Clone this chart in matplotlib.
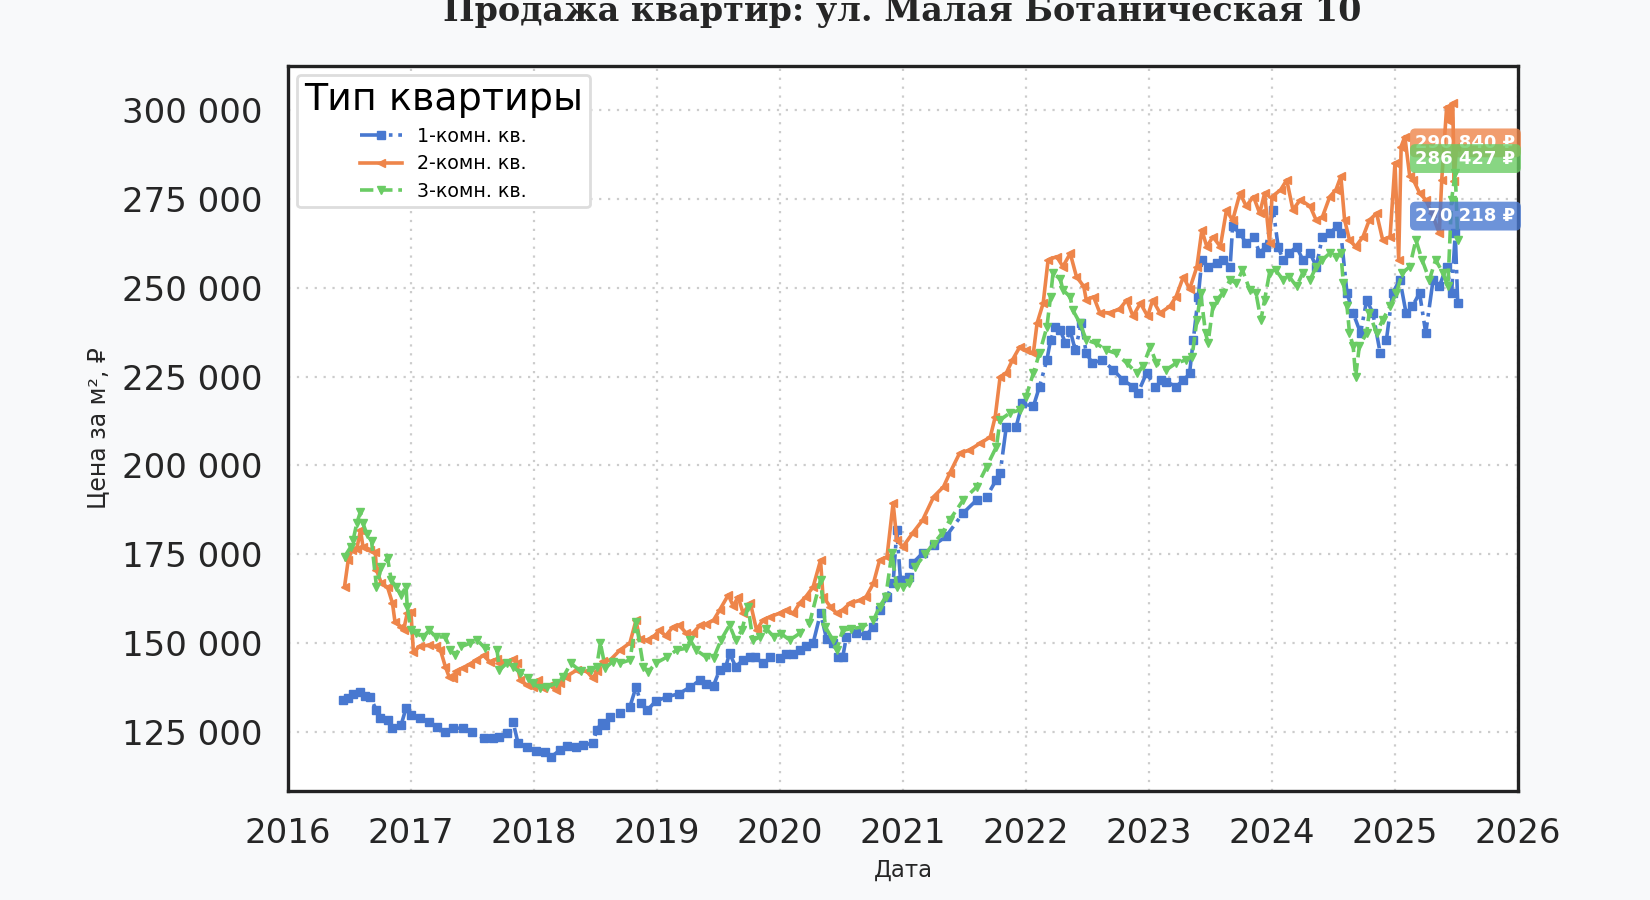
import matplotlib
matplotlib.use("Agg")
import matplotlib.pyplot as plt
import matplotlib.ticker as mticker
import matplotlib.transforms as mtransforms

TITLE = "Продажа квартир: ул. Малая Ботаническая 10"
XLABEL = "Дата"
YLABEL = "Цена за м², ₽"
LEGEND_TITLE = "Тип квартиры"
SERIES_NAMES = ["1-комн. кв.", "2-комн. кв.", "3-комн. кв."]
COLORS = ["#4878d0", "#ee854a", "#6acc64"]
LAST_LABELS = [270218, 290840, 286427]
THOUSAND = 1000

blue_x = [2016.45, 2016.49, 2016.53, 2016.59, 2016.63, 2016.67, 2016.72, 2016.75, 2016.81, 2016.85,
          2016.92, 2016.96, 2017.00, 2017.07, 2017.15, 2017.21, 2017.28, 2017.34, 2017.42, 2017.50,
          2017.59, 2017.67, 2017.72, 2017.78, 2017.83, 2017.87, 2017.94, 2018.02, 2018.09, 2018.14,
          2018.21, 2018.27, 2018.34, 2018.40, 2018.48, 2018.51, 2018.55, 2018.58, 2018.62, 2018.70,
          2018.78, 2018.83, 2018.87, 2018.92, 2018.99, 2019.08, 2019.18, 2019.27, 2019.35, 2019.40,
          2019.46, 2019.51, 2019.56, 2019.59, 2019.64, 2019.70, 2019.76, 2019.80, 2019.86, 2019.92,
          2020.00, 2020.05, 2020.11, 2020.16, 2020.21, 2020.27, 2020.33, 2020.38, 2020.43, 2020.47,
          2020.51, 2020.54, 2020.62, 2020.70, 2020.76, 2020.81, 2020.87, 2020.92, 2020.95, 2020.98,
          2021.05, 2021.08, 2021.16, 2021.25, 2021.35, 2021.49, 2021.60, 2021.68, 2021.76, 2021.79,
          2021.84, 2021.92, 2021.97, 2022.06, 2022.11, 2022.17, 2022.20, 2022.24, 2022.28, 2022.32,
          2022.36, 2022.40, 2022.45, 2022.49, 2022.54, 2022.62, 2022.71, 2022.79, 2022.87, 2022.91,
          2022.98, 2023.05, 2023.10, 2023.14, 2023.22, 2023.28, 2023.33, 2023.36, 2023.40, 2023.43,
          2023.48, 2023.55, 2023.60, 2023.66, 2023.68, 2023.74, 2023.79, 2023.85, 2023.90, 2023.95,
          2024.01, 2024.05, 2024.09, 2024.14, 2024.20, 2024.25, 2024.31, 2024.36, 2024.41, 2024.47,
          2024.53, 2024.56, 2024.61, 2024.66, 2024.72, 2024.77, 2024.82, 2024.88, 2024.93, 2024.98,
          2025.04, 2025.09, 2025.14, 2025.20, 2025.25, 2025.31, 2025.36, 2025.42, 2025.46, 2025.49,
          2025.51]
blue_k = [133.9, 134.5, 135.5, 136.2, 135.0, 134.7, 131.0, 128.8, 128.3, 126.0,
          126.9, 131.6, 129.7, 129.0, 127.7, 126.4, 125.0, 126.0, 126.0, 125.0,
          123.1, 123.1, 123.6, 124.5, 127.8, 121.9, 120.6, 119.7, 119.3, 117.9,
          119.8, 121.0, 120.6, 121.2, 121.8, 125.4, 127.5, 127.0, 129.2, 130.2,
          132.0, 137.6, 133.0, 131.0, 133.6, 134.8, 135.7, 137.6, 139.5, 138.5,
          138.0, 142.4, 143.3, 147.1, 143.3, 145.2, 146.0, 146.0, 144.3, 146.0,
          145.7, 147.0, 147.0, 148.0, 149.0, 150.0, 158.4, 151.0, 150.0, 146.0,
          146.0, 151.7, 152.7, 152.2, 154.5, 159.3, 163.0, 166.8, 181.8, 167.7,
          168.6, 172.5, 175.3, 177.5, 180.0, 186.6, 190.3, 191.2, 196.0, 197.8,
          210.9, 210.9, 217.5, 216.6, 222.2, 229.7, 235.3, 239.0, 238.0, 234.5,
          238.0, 232.5, 240.0, 231.6, 228.8, 229.7, 226.9, 224.0, 222.2, 220.4,
          226.0, 222.2, 224.0, 223.6, 222.2, 224.0, 226.0, 235.3, 247.5, 257.9,
          256.0, 257.0, 257.9, 256.0, 267.3, 265.4, 262.6, 264.4, 259.8, 261.6,
          272.0, 261.6, 257.9, 259.8, 261.6, 257.9, 259.8, 256.0, 264.4, 265.4,
          267.3, 265.4, 248.5, 242.9, 237.3, 246.6, 242.9, 231.6, 235.3, 248.5,
          252.3, 242.9, 244.8, 248.5, 237.3, 252.3, 250.4, 256.0, 248.5, 265.4,
          245.7]

orange_x = [2016.46, 2016.49, 2016.52, 2016.56, 2016.59, 2016.61, 2016.67, 2016.71, 2016.72, 2016.76,
            2016.81, 2016.85, 2016.87, 2016.92, 2016.94, 2016.97, 2017.00, 2017.02, 2017.07, 2017.15,
            2017.20, 2017.24, 2017.28, 2017.31, 2017.34, 2017.37, 2017.42, 2017.48, 2017.53, 2017.59,
            2017.64, 2017.70, 2017.72, 2017.78, 2017.83, 2017.86, 2017.89, 2017.94, 2017.99, 2018.03,
            2018.07, 2018.13, 2018.18, 2018.21, 2018.26, 2018.35, 2018.43, 2018.48, 2018.51, 2018.56,
            2018.62, 2018.70, 2018.78, 2018.83, 2018.86, 2018.92, 2018.98, 2019.02, 2019.07, 2019.13,
            2019.18, 2019.24, 2019.29, 2019.35, 2019.40, 2019.46, 2019.51, 2019.58, 2019.62, 2019.66,
            2019.70, 2019.76, 2019.81, 2019.86, 2019.92, 2020.00, 2020.05, 2020.11, 2020.16, 2020.21,
            2020.27, 2020.33, 2020.35, 2020.41, 2020.46, 2020.51, 2020.57, 2020.65, 2020.70, 2020.76,
            2020.81, 2020.87, 2020.92, 2020.95, 2021.00, 2021.08, 2021.16, 2021.25, 2021.33, 2021.38,
            2021.46, 2021.54, 2021.63, 2021.71, 2021.75, 2021.79, 2021.84, 2021.89, 2021.95, 2022.00,
            2022.06, 2022.09, 2022.14, 2022.18, 2022.25, 2022.30, 2022.36, 2022.41, 2022.47, 2022.49,
            2022.55, 2022.60, 2022.68, 2022.76, 2022.82, 2022.87, 2022.93, 2022.99, 2023.03, 2023.09,
            2023.17, 2023.22, 2023.28, 2023.33, 2023.39, 2023.43, 2023.47, 2023.52, 2023.58, 2023.63,
            2023.68, 2023.74, 2023.79, 2023.85, 2023.90, 2023.94, 2023.98, 2024.00, 2024.07, 2024.12,
            2024.17, 2024.23, 2024.31, 2024.36, 2024.41, 2024.47, 2024.52, 2024.56, 2024.59, 2024.63,
            2024.68, 2024.74, 2024.79, 2024.85, 2024.90, 2024.96, 2025.00, 2025.03, 2025.05, 2025.08,
            2025.12, 2025.15, 2025.20, 2025.25, 2025.30, 2025.36, 2025.38, 2025.42, 2025.44, 2025.47,
            2025.48, 2025.50]
orange_k = [165.8, 173.3, 176.2, 176.5, 181.8, 177.1, 176.3, 175.7, 170.5, 166.8,
            165.7, 161.2, 156.0, 154.5, 153.6, 158.4, 158.8, 147.5, 149.0, 149.4,
            149.0, 148.0, 143.3, 140.5, 140.0, 142.0, 143.0, 144.0, 145.2, 146.5,
            144.7, 145.5, 144.3, 144.7, 145.5, 144.3, 139.6, 138.2, 137.7, 139.6,
            137.3, 138.2, 136.7, 138.6, 140.5, 142.4, 142.0, 140.0, 142.0, 144.8,
            145.2, 148.0, 150.0, 156.4, 151.0, 150.8, 152.0, 153.6, 152.0, 154.5,
            155.0, 152.7, 152.7, 155.0, 155.3, 156.4, 159.3, 163.5, 160.4, 163.0,
            158.4, 161.2, 153.6, 156.4, 157.4, 158.4, 159.3, 158.4, 161.2, 163.0,
            165.8, 173.3, 163.0, 160.2, 158.4, 159.3, 161.2, 162.0, 163.0, 166.8,
            173.3, 174.2, 189.4, 179.0, 177.1, 181.0, 184.6, 191.2, 194.0, 197.8,
            203.4, 204.3, 206.3, 208.0, 213.7, 225.0, 226.0, 229.7, 233.4, 232.5,
            231.6, 240.0, 245.7, 257.9, 258.8, 256.0, 259.7, 253.2, 250.4, 246.6,
            247.5, 243.0, 243.0, 244.0, 246.6, 242.0, 245.7, 242.0, 246.6, 242.9,
            244.8, 247.5, 253.2, 249.6, 256.0, 266.3, 261.6, 264.4, 261.6, 271.9,
            269.0, 276.7, 273.0, 275.7, 271.0, 276.7, 262.6, 275.7, 277.6, 280.4,
            272.0, 274.8, 273.0, 269.0, 270.0, 275.7, 277.6, 281.4, 269.2, 263.5,
            261.6, 264.4, 269.0, 271.0, 263.5, 264.4, 285.2, 257.9, 289.8, 292.6,
            281.4, 280.4, 276.7, 274.8, 271.0, 265.4, 280.4, 301.0, 297.0, 302.0,
            280.0, 289.8]

green_x = [2016.46, 2016.51, 2016.53, 2016.56, 2016.59, 2016.61, 2016.64, 2016.68, 2016.72, 2016.76,
           2016.81, 2016.84, 2016.88, 2016.92, 2016.96, 2016.97, 2017.00, 2017.04, 2017.10, 2017.15,
           2017.20, 2017.28, 2017.32, 2017.36, 2017.41, 2017.48, 2017.54, 2017.60, 2017.70, 2017.72,
           2017.78, 2017.83, 2017.89, 2017.95, 2017.99, 2018.05, 2018.11, 2018.18, 2018.24, 2018.30,
           2018.38, 2018.46, 2018.51, 2018.54, 2018.58, 2018.64, 2018.70, 2018.78, 2018.83, 2018.89,
           2018.93, 2018.99, 2019.08, 2019.16, 2019.24, 2019.27, 2019.32, 2019.40, 2019.46, 2019.52,
           2019.59, 2019.64, 2019.69, 2019.74, 2019.78, 2019.84, 2019.89, 2019.95, 2020.01, 2020.08,
           2020.16, 2020.24, 2020.33, 2020.37, 2020.43, 2020.46, 2020.51, 2020.58, 2020.67, 2020.76,
           2020.81, 2020.86, 2020.91, 2020.95, 2021.00, 2021.05, 2021.10, 2021.18, 2021.25, 2021.32,
           2021.38, 2021.49, 2021.60, 2021.68, 2021.76, 2021.79, 2021.87, 2021.95, 2022.00, 2022.06,
           2022.11, 2022.17, 2022.20, 2022.22, 2022.28, 2022.30, 2022.36, 2022.38, 2022.44, 2022.49,
           2022.57, 2022.65, 2022.73, 2022.82, 2022.90, 2022.95, 2023.01, 2023.06, 2023.14, 2023.22,
           2023.30, 2023.35, 2023.39, 2023.42, 2023.46, 2023.48, 2023.52, 2023.55, 2023.60, 2023.66,
           2023.71, 2023.76, 2023.82, 2023.87, 2023.91, 2023.94, 2023.98, 2024.03, 2024.09, 2024.14,
           2024.20, 2024.25, 2024.31, 2024.36, 2024.41, 2024.47, 2024.52, 2024.56, 2024.58, 2024.61,
           2024.63, 2024.66, 2024.68, 2024.71, 2024.77, 2024.79, 2024.85, 2024.90, 2024.96, 2025.01,
           2025.06, 2025.12, 2025.17, 2025.22, 2025.28, 2025.33, 2025.39, 2025.43, 2025.46, 2025.49,
           2025.51]
green_k = [174.3, 177.0, 179.0, 183.7, 187.0, 183.7, 180.8, 178.6, 165.8, 171.5,
           173.9, 167.7, 165.8, 163.5, 165.8, 160.2, 153.6, 152.7, 151.7, 153.6,
           151.7, 151.7, 148.0, 146.6, 149.0, 149.9, 150.8, 148.6, 148.0, 142.4,
           144.3, 143.3, 141.5, 140.0, 138.7, 137.3, 137.7, 138.6, 140.5, 144.3,
           142.0, 142.4, 143.3, 150.0, 143.0, 144.7, 144.3, 145.2, 156.0, 143.3,
           141.9, 144.3, 146.0, 148.0, 148.5, 150.8, 148.0, 146.0, 145.7, 150.8,
           155.0, 150.8, 153.6, 160.2, 150.8, 151.7, 154.0, 151.7, 152.6, 150.8,
           152.7, 155.5, 167.7, 154.5, 150.8, 148.0, 153.6, 154.0, 154.5, 156.4,
           160.2, 163.0, 175.3, 165.8, 165.8, 166.8, 171.4, 175.0, 178.0, 181.0,
           184.6, 190.3, 194.0, 199.6, 205.3, 212.8, 214.8, 215.6, 219.3, 226.0,
           231.6, 239.0, 247.5, 254.2, 252.4, 249.4, 247.5, 243.8, 240.0, 235.3,
           234.4, 232.5, 231.6, 228.8, 226.0, 227.9, 233.4, 228.8, 226.9, 228.8,
           229.7, 230.6, 241.0, 248.5, 237.3, 234.5, 244.8, 246.6, 248.5, 252.3,
           251.3, 255.0, 249.4, 248.5, 241.0, 246.6, 254.2, 255.0, 252.3, 253.2,
           250.4, 254.2, 252.3, 256.0, 257.9, 259.8, 258.8, 259.8, 251.4, 244.8,
           237.3, 233.6, 225.0, 233.6, 237.3, 243.0, 237.3, 241.0, 244.8, 248.5,
           254.2, 256.0, 263.5, 257.9, 252.3, 257.9, 254.2, 250.4, 274.8, 282.4,
           263.5]

XLIM = (2016.0, 2026.0)
YLIM = (108300, 312500)
X_TICKS = list(range(2016, 2027))
Y_TICKS = [125000, 150000, 175000, 200000, 225000, 250000, 275000, 300000]

series = [
    (blue_x, blue_k, "-.", "s"),
    (orange_x, orange_k, "-", "<"),
    (green_x, green_k, "--", "v"),
]

fig = plt.figure(figsize=(16.5, 9), dpi=100, facecolor="#f8f9fa")
ax = fig.add_axes([0.1745, 0.1211, 0.7455, 0.8056])
ax.set_facecolor("white")

for i, (xs, ks, ls, mk) in enumerate(series):
    ys = [k * THOUSAND for k in ks]
    ax.plot(xs, ys, linestyle=ls, marker=mk, color=COLORS[i], lw=2.6,
            markersize=5.5, label=SERIES_NAMES[i], zorder=3)

ax.set_xlim(*XLIM)
ax.set_ylim(*YLIM)
ax.set_xticks(X_TICKS)
ax.set_yticks(Y_TICKS)
ax.xaxis.set_major_formatter(mticker.FuncFormatter(lambda v, p: f"{int(round(v))}"))
ax.yaxis.set_major_formatter(mticker.FuncFormatter(lambda v, p: f"{int(v):,}".replace(",", " ")))
ax.tick_params(axis="both", length=0, labelsize=24.5, colors="#262626")
ax.tick_params(axis="x", pad=19)
ax.tick_params(axis="y", pad=18)
ax.grid(True, linestyle=(0, (1, 3)), color="#cccccc", linewidth=1.6, zorder=0)

for sp in ax.spines.values():
    sp.set_linewidth(2.4)
    sp.set_color("#222222")

ax.set_xlabel(XLABEL, fontsize=16.5, color="#262626", labelpad=6)
ax.set_ylabel(YLABEL, fontsize=17, color="#262626", labelpad=9)

fig.text(0.547, 1 - 21 / 900, TITLE, ha="center", va="baseline",
         fontsize=24, fontweight="bold", family="DejaVu Serif", color="#262626")

leg = ax.legend(title=LEGEND_TITLE, loc="upper left", fontsize=13.7, title_fontsize=27.4,
                frameon=True, fancybox=True, borderpad=0.35, labelspacing=0.45,
                handlelength=2.2)
leg.get_frame().set_edgecolor("#dddddd")
leg.get_frame().set_linewidth(2)
leg.get_frame().set_facecolor("white")
leg.get_frame().set_alpha(1)

trans = mtransforms.blended_transform_factory(ax.transAxes, ax.transData)
for i in [1, 2, 0]:
    val = LAST_LABELS[i]
    ax.text(0.998, val, f"{val:,}".replace(",", " ") + " ₽", transform=trans,
            ha="right", va="center", fontsize=13, fontweight="bold", color="white",
            zorder=5, clip_on=False,
            bbox=dict(boxstyle="round,pad=0.3", facecolor=COLORS[i], edgecolor="none", alpha=0.8))

fig.savefig("out.png", dpi=100, facecolor=fig.get_facecolor())
